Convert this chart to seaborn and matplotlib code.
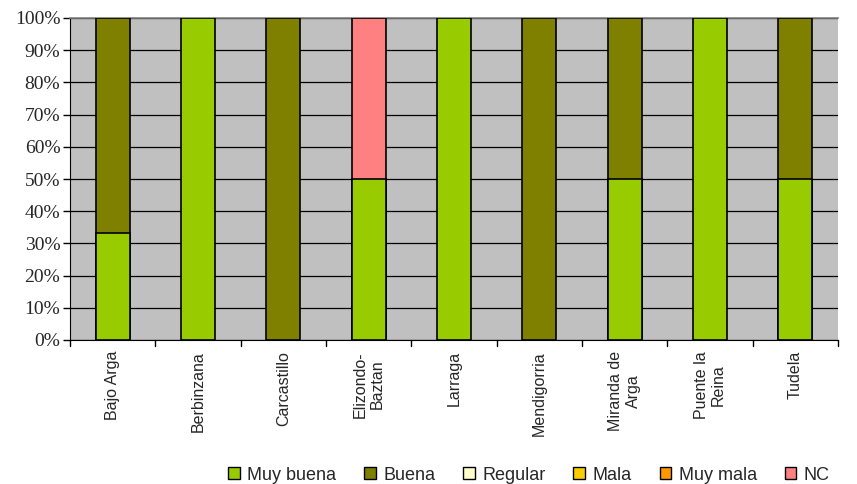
import matplotlib
matplotlib.use("Agg")
import matplotlib.pyplot as plt
import seaborn as sns
import numpy as np
import pandas as pd
from matplotlib.patches import Patch

categories = ["Bajo Arga", "Berbinzana", "Carcastillo", "Elizondo-\nBaztan", "Larraga",
              "Mendigorria", "Miranda de\nArga", "Puente la\nReina", "Tudela"]
series_names = ["Muy buena", "Buena", "Regular", "Mala", "Muy mala", "NC"]
muy_buena = [33.3, 100, 0, 50, 100, 0, 50, 100, 50]
buena = [66.7, 0, 100, 0, 0, 100, 50, 0, 50]
regular = [0, 0, 0, 0, 0, 0, 0, 0, 0]
mala = [0, 0, 0, 0, 0, 0, 0, 0, 0]
muy_mala = [0, 0, 0, 0, 0, 0, 0, 0, 0]
nc = [0, 0, 0, 50, 0, 0, 0, 0, 0]
colors = ["#99CC00", "#808000", "#FFFFCC", "#FFCC00", "#FF9900", "#FF8080"]
yticks = [0, 10, 20, 30, 40, 50, 60, 70, 80, 90, 100]

sns.set_style("white")
fig = plt.figure(figsize=(8.57, 4.84), dpi=100)
ax = fig.add_axes([70 / 857, 1 - 340 / 484, (838 - 70) / 857, (340 - 18) / 484])
ax.set_facecolor("#C0C0C0")

vals = np.array([muy_buena, buena, regular, mala, muy_mala, nc])
cum = np.cumsum(vals, axis=0)
for i in range(len(series_names) - 1, -1, -1):
    mask = vals[i] > 0
    df = pd.DataFrame({"cat": categories, "val": np.where(mask, cum[i], np.nan)})
    sns.barplot(data=df, x="cat", y="val", color=colors[i], ax=ax, width=0.4,
                edgecolor="black", linewidth=1.2, saturation=1, zorder=3)

for y in yticks:
    ax.axhline(y, color="black", lw=0.9, zorder=1)

ax.set_ylim(0, 100)
ax.set_xlim(-0.5, len(categories) - 0.5)
ax.set_yticks(yticks)
ax.set_yticklabels([f"{v}%" for v in yticks], fontfamily="Liberation Serif", fontsize=14)
ax.set_xticks(range(len(categories)))
ax.set_xticklabels(categories, rotation=90, fontfamily="Liberation Sans", fontsize=11.5,
                   ha="center", va="top", multialignment="center")
ax.tick_params(axis="x", length=0, pad=8)
ax.tick_params(axis="y", length=5, width=1, color="black", left=True, pad=2)
for b in np.arange(-0.5, len(categories), 1.0):
    ax.plot([b, b], [0, -2], color="black", lw=1, clip_on=False)
ax.set_xlabel("")
ax.set_ylabel("")
ax.spines["top"].set_color("#808080")
ax.spines["top"].set_linewidth(1.2)
ax.spines["right"].set_visible(False)
ax.spines["left"].set_color("black")
ax.spines["bottom"].set_color("black")

handles = [Patch(facecolor=c, edgecolor="black", linewidth=1) for c in colors]
fig.legend(handles, series_names, loc="center", bbox_to_anchor=(529 / 857, 1 - 475 / 484),
           ncol=6, frameon=False, prop={"family": "Liberation Sans", "size": 13},
           handlelength=0.65, handleheight=0.65, handletextpad=0.4, columnspacing=1.55,
           borderpad=0, borderaxespad=0)

fig.savefig("out.png", dpi=100)
